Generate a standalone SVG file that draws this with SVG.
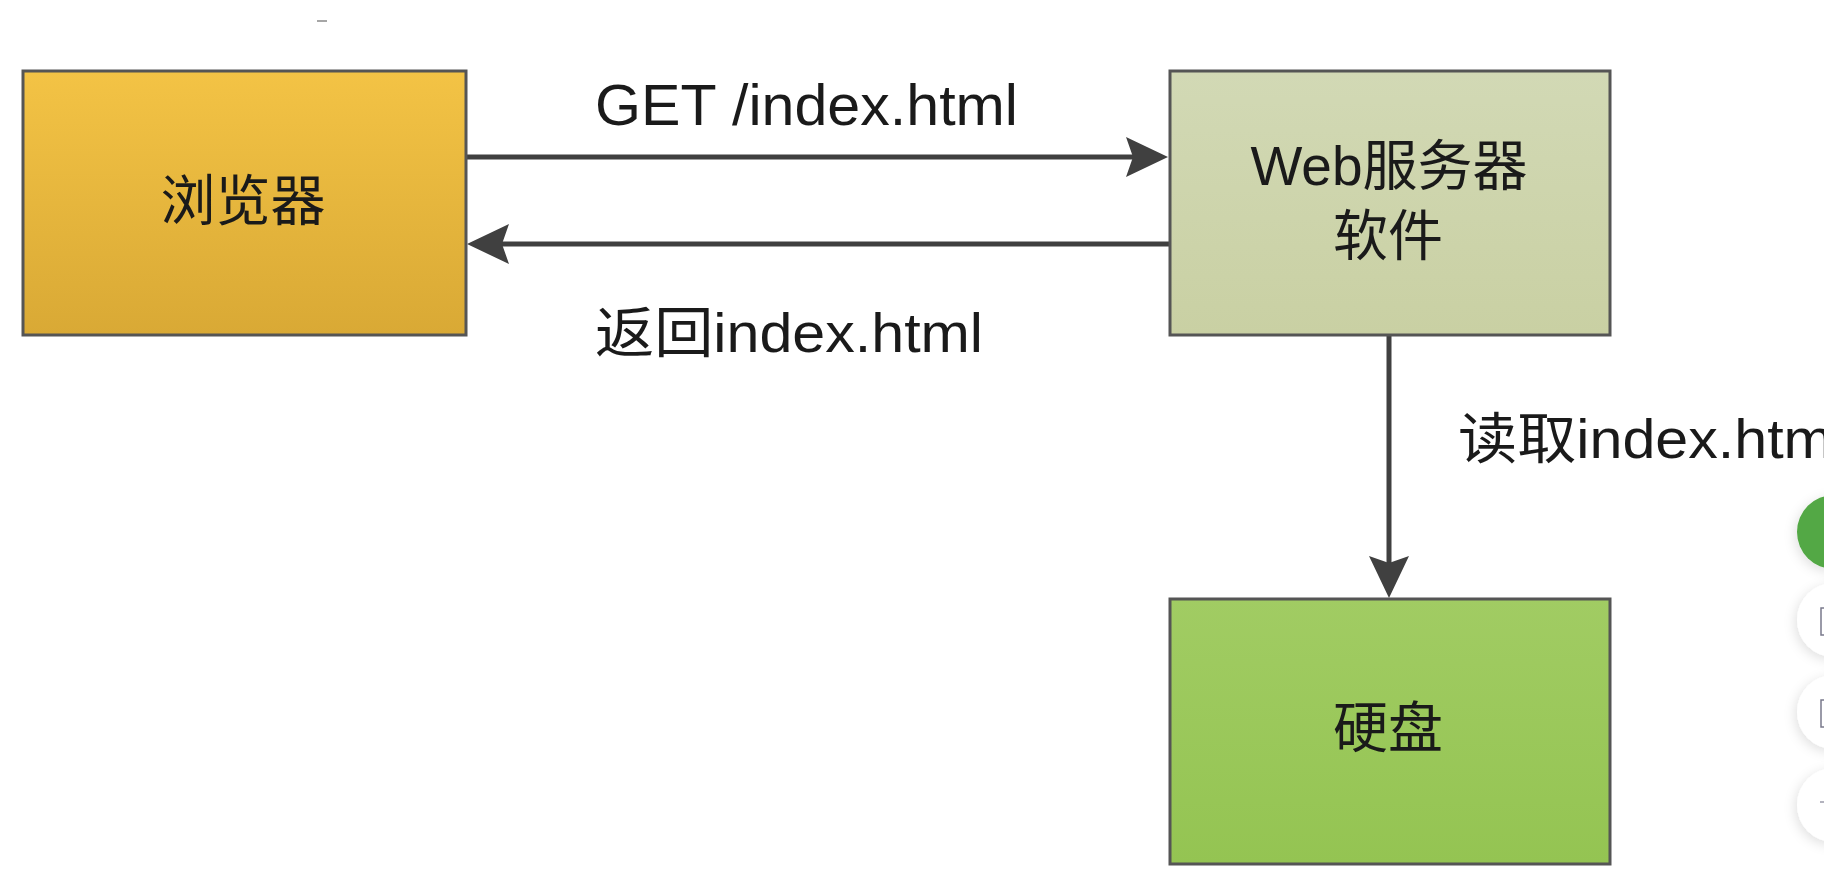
<svg xmlns="http://www.w3.org/2000/svg" width="1824" height="884" viewBox="0 0 1824 884">
  <defs>
    <linearGradient id="gBrowser" x1="0" y1="0" x2="0" y2="1">
      <stop offset="0" stop-color="#F3C345"/>
      <stop offset="1" stop-color="#D9A935"/>
    </linearGradient>
    <linearGradient id="gServer" x1="0" y1="0" x2="0" y2="1">
      <stop offset="0" stop-color="#D2D9B5"/>
      <stop offset="1" stop-color="#C9D0A3"/>
    </linearGradient>
    <linearGradient id="gDisk" x1="0" y1="0" x2="0" y2="1">
      <stop offset="0" stop-color="#A1CC63"/>
      <stop offset="1" stop-color="#94C452"/>
    </linearGradient>
    <marker id="arrow" markerUnits="userSpaceOnUse" viewBox="0 0 42 40" refX="34" refY="20" markerWidth="42" markerHeight="40" orient="auto">
      <path d="M0,0 L42,20 L0,40 L7,20 Z" fill="#404040"/>
    </marker>
    <filter id="shadow" x="-50%" y="-50%" width="200%" height="200%">
      <feDropShadow dx="-2" dy="3" stdDeviation="6" flood-color="#000" flood-opacity="0.12"/>
    </filter>
  </defs>
  <style>
    .box { stroke: #555; stroke-width: 3; }
    .lbl { font-family: "Liberation Sans", "Noto Sans CJK SC", sans-serif; fill: #1a1a1a; }
    .node { font-family: "Liberation Sans", "Noto Sans CJK SC", sans-serif; font-size: 55px; fill: #1a1a1a; text-anchor: middle; }
    .edge { stroke: #404040; stroke-width: 5; fill: none; marker-end: url(#arrow); }
  </style>
  <rect width="1824" height="884" fill="#ffffff"/>
  <line x1="317" y1="21" x2="327" y2="21" stroke="#888" stroke-width="1.5"/>

  <g id="connectors">
    <line class="edge" x1="466" y1="157" x2="1160" y2="157"/>
    <line class="edge" x1="1170" y1="244" x2="475" y2="244"/>
    <line class="edge" x1="1389" y1="335" x2="1389" y2="590"/>
    <text class="lbl" x="595" y="125" font-size="58" textLength="423" lengthAdjust="spacingAndGlyphs">GET /index.html</text>
    <text class="lbl" x="595" y="352" font-size="55" textLength="388" lengthAdjust="spacingAndGlyphs">返回index.html</text>
    <text class="lbl" x="1458" y="458" font-size="55" textLength="388" lengthAdjust="spacingAndGlyphs">读取index.html</text>
  </g>

  <g id="browser">
    <rect class="box" x="23" y="71" width="443" height="264" fill="url(#gBrowser)"/>
    <text class="node" x="243" y="220">浏览器</text>
  </g>

  <g id="server">
    <rect class="box" x="1170" y="71" width="440" height="264" fill="url(#gServer)"/>
    <text class="node" font-size="53"><tspan x="1389" y="185">Web服务器</tspan><tspan x="1388" y="255">软件</tspan></text>
  </g>

  <g id="disk">
    <rect class="box" x="1170" y="599" width="440" height="265" fill="url(#gDisk)"/>
    <text class="node" x="1388" y="747">硬盘</text>
  </g>

  <g id="sidebar">
    <circle cx="1834" cy="532" r="37" fill="#52A844" filter="url(#shadow)"/>
    <circle cx="1834" cy="620" r="37" fill="#ffffff" filter="url(#shadow)"/>
    <circle cx="1834" cy="712" r="37" fill="#ffffff" filter="url(#shadow)"/>
    <circle cx="1834" cy="805" r="37" fill="#ffffff" filter="url(#shadow)"/>
    <path d="M1824,608 L1821,608 L1821,635 L1824,635" fill="none" stroke="#7a7a8c" stroke-width="1.5"/>
    <path d="M1824,700 L1821,700 L1821,727 L1824,727" fill="none" stroke="#7a7a8c" stroke-width="1.5"/>
    <line x1="1820" y1="802" x2="1824" y2="802" stroke="#9a9aa8" stroke-width="1.5"/>
  </g>
</svg>
